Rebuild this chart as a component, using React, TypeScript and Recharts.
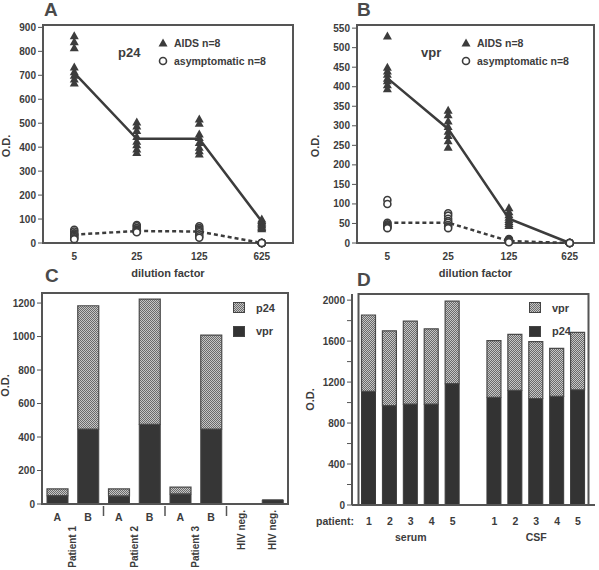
import React from 'react';
import { ScatterChart, Scatter, BarChart, Bar, XAxis, YAxis, Legend, ReferenceArea } from 'recharts';

const FONT = '"Liberation Sans", Arial, sans-serif';
const INK = '#3c3c3c';
const AXIS = '#555';

// ---- panels A / B: O.D. vs dilution factor (8 sera per group) ----
const dilutions = ['5', '25', '125', '625'];

const p24Aids = [
  [865, 840, 815, 735, 715, 700, 685, 668],
  [505, 488, 470, 445, 425, 410, 392, 378],
  [518, 500, 455, 440, 420, 400, 385, 372],
  [100, 94, 88, 82, 76, 70, 65, 60],
];
const p24Asym = [
  [55, 48, 40, 35, 30, 25, 20, 16],
  [75, 70, 62, 56, 52, 50, 47, 45],
  [70, 62, 56, 50, 45, 36, 28, 22],
  [0, 0, 0, 0, 0, 0, 0, 0],
];
const p24AidsMean = [710, 435, 435, 90];
const p24AsymMean = [35, 50, 48, 0];

const vprAids = [
  [530, 450, 440, 432, 422, 415, 405, 395],
  [340, 328, 312, 298, 286, 275, 262, 245],
  [90, 80, 72, 66, 60, 55, 50, 45],
  [],
];
const vprAsym = [
  [110, 100, 52, 48, 45, 42, 40, 38],
  [76, 70, 62, 56, 52, 46, 42, 38],
  [10, 8, 7, 6, 5, 4, 3, 2],
  [0, 0, 0, 0, 0, 0, 0, 0],
];
const vprAidsMean = [422, 292, 62, 0];
const vprAsymMean = [52, 52, 5, 0];

const p24Ticks = [0, 100, 200, 300, 400, 500, 600, 700, 800, 900];
const vprTicks = [0, 50, 100, 150, 200, 250, 300, 350, 400, 450, 500, 550];

// ---- panel C: patients A/B, stacked vpr + p24 ----
const cLetters = ['A', 'B', 'A', 'B', 'A', 'B', '', ''];
const cGroups = ['Patient 1', '', 'Patient 2', '', 'Patient 3', '', 'HIV neg.', 'HIV neg.'];
const cVpr = [50, 448, 48, 476, 60, 448, 0, 25];
const cP24 = [40, 736, 42, 748, 41, 561, 0, 0];
const cTicks = [0, 200, 400, 600, 800, 1000, 1200];

// ---- panel D: serum vs CSF, stacked p24 + vpr ----
const dNumbers = ['1', '2', '3', '4', '5', '', '1', '2', '3', '4', '5'];
const dGroups = ['', '', 'serum', '', '', '', '', '', 'CSF', '', ''];
const dP24 = [1110, 970, 985, 985, 1185, null, 1050, 1120, 1040, 1060, 1125];
const dVpr = [745, 730, 810, 735, 805, null, 555, 545, 555, 470, 560];
const dTicks = [0, 200, 400, 600, 800, 1000, 1200, 1400, 1600, 1800, 2000];

const toPoints = (rows: number[][]) => rows.flatMap((vals, i) => vals.map((v) => ({ x: i, y: v })));
const toLine = (vals: number[]) => vals.map((v, i) => ({ x: i, y: v }));

const tickStyle = { fontFamily: FONT, fontWeight: 700, fontSize: 10, fill: INK };
const axisLine = { stroke: AXIS, strokeWidth: 2 };
const labelStyle = { fontFamily: FONT, fontWeight: 700, fontSize: 11, fill: INK, textAnchor: 'middle' as const };

// rotated "O.D." y label; cx = distance from the axis box's left, shift = offset from plot middle
const odLabel = (cx: number, shift: number) => (p: any) => {
  const vb = p.viewBox || { x: 0, y: 0, height: 0 };
  const x = vb.x + cx;
  const y = vb.y + vb.height / 2 + shift;
  return (
    <text x={x} y={y} transform={`rotate(-90, ${x}, ${y})`} textAnchor="middle" dominantBaseline="central" style={labelStyle}>
      O.D.
    </text>
  );
};

const Tri = (p: any) => (
  <path d={`M${p.cx},${p.cy - 4.5}L${p.cx + 4.5},${p.cy + 3.5}L${p.cx - 4.5},${p.cy + 3.5}Z`} fill={INK} />
);
const Ring = (p: any) => <circle cx={p.cx} cy={p.cy} r={3.5} fill="#fff" stroke={INK} strokeWidth={1.6} />;
const Nothing = () => <g />;

function DilutionLegend({ marker }: { marker: string }) {
  const row = { display: 'flex', alignItems: 'center', height: 18 } as const;
  return (
    <div style={{ display: 'flex', alignItems: 'center', fontFamily: FONT, fontWeight: 700, color: INK }}>
      <div style={{ fontSize: 13, width: 40 }}>{marker}</div>
      <div style={{ fontSize: 10.5 }}>
        <div style={row}>
          <svg width={10} height={10}><path d="M5,0.5L9.5,8.5L0.5,8.5Z" fill={INK} /></svg>
          <span style={{ marginLeft: 6 }}>AIDS n=8</span>
        </div>
        <div style={row}>
          <svg width={10} height={10}><circle cx={5} cy={5} r={3.5} fill="#fff" stroke={INK} strokeWidth={1.6} /></svg>
          <span style={{ marginLeft: 6 }}>asymptomatic n=8</span>
        </div>
      </div>
    </div>
  );
}

function DilutionPanel(props: {
  marker: string;
  aids: number[][];
  asym: number[][];
  aidsMean: number[];
  asymMean: number[];
  yMax: number;
  ticks: number[];
  xMax: number;
  yWidth: number;
  right: number;
  labelX: number;
  legendLeft: number;
}) {
  return (
    <ScatterChart width={300} height={280} margin={{ top: 25, right: props.right, bottom: 0, left: 0 }}>
      <XAxis
        dataKey="x"
        type="number"
        domain={[-0.5, props.xMax]}
        ticks={[0, 1, 2, 3]}
        tickFormatter={(i: number) => dilutions[i]}
        tick={tickStyle}
        tickLine={false}
        tickSize={8}
        axisLine={axisLine}
        height={37}
        label={{ value: 'dilution factor', position: 'insideBottom', offset: 3, style: labelStyle }}
      />
      <YAxis
        dataKey="y"
        type="number"
        domain={[0, props.yMax]}
        ticks={props.ticks}
        tick={tickStyle}
        tickLine={{ stroke: AXIS }}
        tickSize={5}
        axisLine={axisLine}
        width={props.yWidth}
        label={{ content: odLabel(props.labelX, 12) }}
      />
      <Legend
        layout="vertical"
        align="center"
        verticalAlign="middle"
        wrapperStyle={{ top: 34, left: props.legendLeft, width: 180 }}
        content={() => <DilutionLegend marker={props.marker} />}
      />
      <Scatter data={toLine(props.aidsMean)} line={{ stroke: INK, strokeWidth: 2.5 }} shape={Nothing} legendType="none" isAnimationActive={false} />
      <Scatter data={toLine(props.asymMean)} line={{ stroke: INK, strokeWidth: 2.5, strokeDasharray: '4 3' }} shape={Nothing} legendType="none" isAnimationActive={false} />
      <Scatter name="AIDS n=8" data={toPoints(props.aids)} shape={Tri} isAnimationActive={false} />
      <Scatter name="asymptomatic n=8" data={toPoints(props.asym)} shape={Ring} isAnimationActive={false} />
      <ReferenceArea y1={0} y2={props.yMax} fill="none" stroke={AXIS} strokeWidth={2} fillOpacity={0} />
    </ScatterChart>
  );
}

const stipple = 'repeating-conic-gradient(#6a6a6a 0% 25%, #c6c6c6 0% 50%) 0 0 / 2px 2px';

function BarLegend({ items }: { items: { label: string; light: boolean }[] }) {
  return (
    <div style={{ fontFamily: FONT, fontWeight: 700, fontSize: 11, color: INK }}>
      {items.map((it) => (
        <div key={it.label} style={{ display: 'flex', alignItems: 'center', height: 23.5 }}>
          <div style={{ width: 12, height: 11, background: it.light ? stipple : '#333', boxSizing: 'border-box', border: '1px solid #444' }} />
          <span style={{ marginLeft: 11 }}>{it.label}</span>
        </div>
      ))}
    </div>
  );
}

function PatternDefs({ id }: { id: string }) {
  return (
    <defs>
      <pattern id={id} width={2} height={2} patternUnits="userSpaceOnUse">
        <rect width={2} height={2} fill="#c6c6c6" />
        <rect width={1} height={1} fill="#6a6a6a" />
        <rect x={1} y={1} width={1} height={1} fill="#6a6a6a" />
      </pattern>
    </defs>
  );
}

const CTick = (p: any) => {
  const i = p.payload.index;
  const half = p.payload.offset || 15;
  const pair = cLetters[i] !== '';
  const gx = pair ? p.x + half : p.x;
  const gy = pair ? p.y + 20 : p.y + 4;
  const txt = { fontFamily: FONT, fontWeight: 700, fontSize: 10.5, fill: INK };
  return (
    <g>
      {cLetters[i] && (
        <text x={p.x} y={p.y + 15} textAnchor="middle" {...txt}>{cLetters[i]}</text>
      )}
      {(i === 2 || i === 4 || i === 6) && (
        <line x1={p.x - half} x2={p.x - half} y1={p.y} y2={p.y + 10} stroke={AXIS} strokeWidth={1.5} />
      )}
      {cGroups[i] && (
        <text x={gx} y={gy} transform={`rotate(-90, ${gx}, ${gy})`} textAnchor="end" dominantBaseline="central" {...txt} fontSize={10}>
          {cGroups[i]}
        </text>
      )}
    </g>
  );
};

const DTick = (p: any) => {
  const i = p.payload.index;
  const txt = { fontFamily: FONT, fontWeight: 700, fontSize: 10.5, fill: INK };
  return (
    <g>
      <text x={p.x} y={p.y + 18} textAnchor="middle" {...txt}>{dNumbers[i]}</text>
      {i === 0 && <text x={p.x - 15} y={p.y + 18} textAnchor="end" {...txt}>patient:</text>}
      {dGroups[i] && <text x={p.x} y={p.y + 34} textAnchor="middle" {...txt}>{dGroups[i]}</text>}
    </g>
  );
};

const cData = cLetters.map((_, i) => ({ key: 'c' + i, vpr: cVpr[i], p24: cP24[i] }));
const dData = dNumbers.map((_, i) => ({ key: 'd' + i, p24: dP24[i], vpr: dVpr[i] }));

function PanelC() {
  return (
    <BarChart width={300} height={290} data={cData} margin={{ top: 13, right: 12, bottom: 0, left: 0 }} barSize={21}>
      <PatternDefs id="stippleC" />
      <XAxis dataKey="key" tick={<CTick />} tickLine={false} tickSize={0} interval={0} axisLine={axisLine} height={66} />
      <YAxis
        type="number"
        domain={[0, 1260]}
        ticks={cTicks}
        tick={tickStyle}
        tickLine={{ stroke: AXIS }}
        tickSize={5}
        axisLine={axisLine}
        width={42}
        label={{ content: odLabel(5, -13) }}
      />
      <Legend
        layout="vertical"
        align="center"
        verticalAlign="middle"
        wrapperStyle={{ top: 16, left: 233, width: 60 }}
        content={() => <BarLegend items={[{ label: 'p24', light: true }, { label: 'vpr', light: false }]} />}
      />
      <Bar dataKey="vpr" stackId="s" fill="#363636" stroke="#444" strokeWidth={1} isAnimationActive={false} />
      <Bar dataKey="p24" stackId="s" fill="url(#stippleC)" stroke="#4a4a4a" strokeWidth={1.2} isAnimationActive={false} />
      <ReferenceArea y1={0} y2={1260} fill="none" stroke={AXIS} strokeWidth={2} fillOpacity={0} />
    </BarChart>
  );
}

function PanelD() {
  return (
    <BarChart width={300} height={290} data={dData} margin={{ top: 14, right: 4, bottom: 0, left: 0 }} barSize={14}>
      <PatternDefs id="stippleD" />
      <XAxis dataKey="key" tick={<DTick />} tickLine={false} tickSize={0} interval={0} axisLine={axisLine} height={65} padding={{ left: 6.5, right: 6.5 }} />
      <YAxis
        type="number"
        domain={[0, 2060]}
        ticks={dTicks}
        tickFormatter={(v: number) => (v % 400 === 0 ? String(v) : '')}
        tick={tickStyle}
        tickLine={{ stroke: AXIS }}
        tickSize={5}
        axisLine={axisLine}
        width={53}
        label={{ content: odLabel(11, 0) }}
      />
      <Legend
        layout="vertical"
        align="center"
        verticalAlign="middle"
        wrapperStyle={{ top: 16, left: 230, width: 60 }}
        content={() => <BarLegend items={[{ label: 'vpr', light: true }, { label: 'p24', light: false }]} />}
      />
      <Bar dataKey="p24" stackId="s" fill="#333" stroke="#3a3a3a" strokeWidth={1} isAnimationActive={false} />
      <Bar dataKey="vpr" stackId="s" fill="url(#stippleD)" stroke="#4a4a4a" strokeWidth={1.2} isAnimationActive={false} />
      <ReferenceArea y1={0} y2={2060} fill="none" stroke={AXIS} strokeWidth={2} fillOpacity={0} />
    </BarChart>
  );
}

const titleStyle = { position: 'absolute' as const, fontFamily: FONT, fontWeight: 700, fontSize: 19, lineHeight: '19px', color: '#4a4a4a', zIndex: 2 };

export default function App() {
  return (
    <div style={{ position: 'absolute', left: 0, top: 0, width: 599, height: 570, background: '#fff', overflow: 'hidden' }}>
      <div style={{ position: 'absolute', left: 0, top: 0 }}>
        <DilutionPanel
          marker="p24"
          aids={p24Aids}
          asym={p24Asym}
          aidsMean={p24AidsMean}
          asymMean={p24AsymMean}
          yMax={910}
          ticks={p24Ticks}
          xMax={3.5}
          yWidth={43}
          right={7}
          labelX={6}
          legendLeft={118}
        />
      </div>
      <div style={{ position: 'absolute', left: 299, top: 0 }}>
        <DilutionPanel
          marker="vpr"
          aids={vprAids}
          asym={vprAsym}
          aidsMean={vprAidsMean}
          asymMean={vprAsymMean}
          yMax={558}
          ticks={vprTicks}
          xMax={3.4}
          yWidth={58}
          right={5}
          labelX={16}
          legendLeft={122}
        />
      </div>
      <div style={{ position: 'absolute', left: 0, top: 280 }}>
        <PanelC />
      </div>
      <div style={{ position: 'absolute', left: 299, top: 280 }}>
        <PanelD />
      </div>
      <div style={{ ...titleStyle, left: 44, top: 0 }}>A</div>
      <div style={{ ...titleStyle, left: 357, top: 0 }}>B</div>
      <div style={{ ...titleStyle, left: 45, top: 266 }}>C</div>
      <div style={{ ...titleStyle, left: 357, top: 270 }}>D</div>
    </div>
  );
}
